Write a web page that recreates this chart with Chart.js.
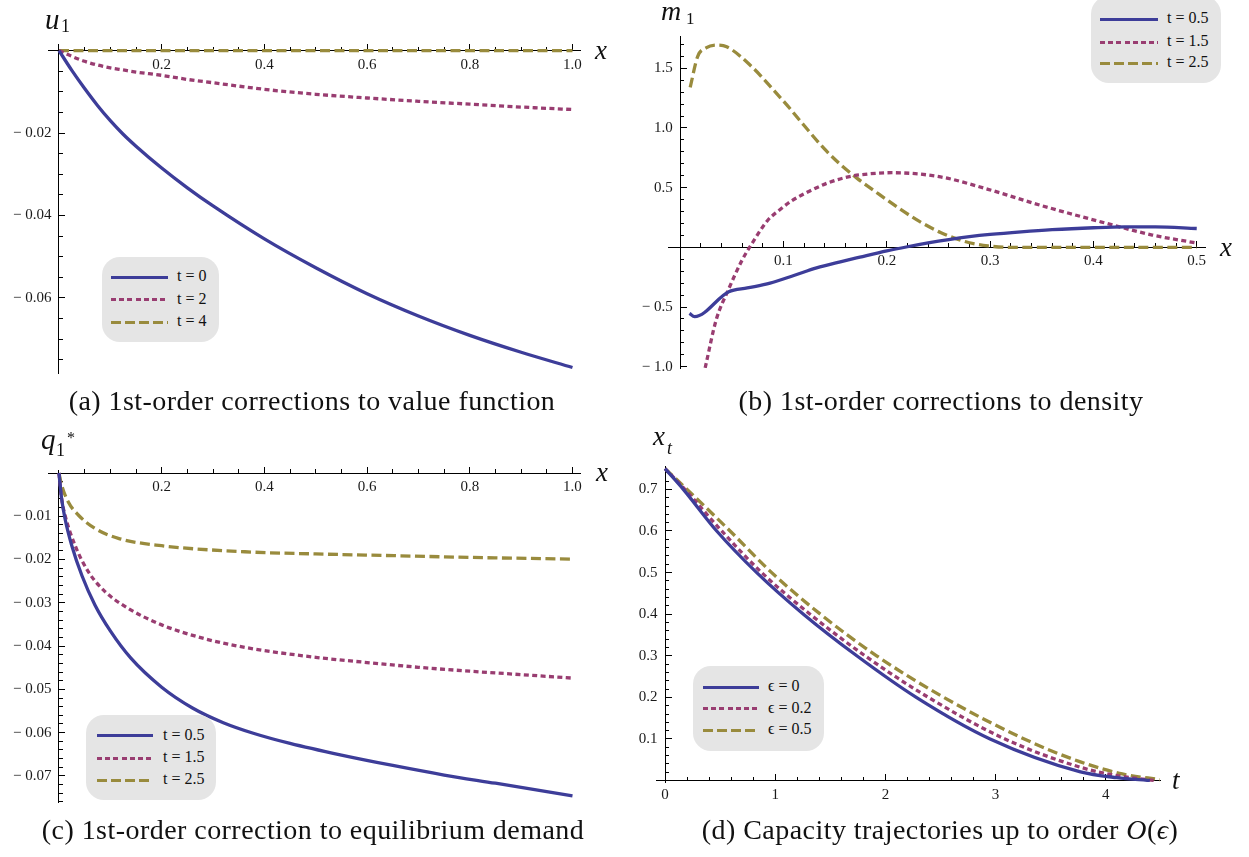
<!DOCTYPE html>
<html>
<head>
<meta charset="utf-8">
<script src="https://cdn.jsdelivr.net/npm/chart.js@4.4.1/dist/chart.umd.min.js"></script>
<style>
  body { margin: 0; background: #fff; }
  #page { position: relative; width: 1249px; height: 857px; overflow: hidden; font-family: "Liberation Serif", serif; color: #111; }
  canvas { position: absolute; }
  .cap { position: absolute; width: 620px; text-align: center; font-size: 28px; letter-spacing: 0.45px; line-height: 1; white-space: nowrap; }
  .lab { position: absolute; font-style: italic; line-height: 1; white-space: nowrap; }
  .sub { position: absolute; line-height: 1; white-space: nowrap; }
  .leg { position: absolute; background: #e5e5e5; border-radius: 18px; }
  .sw { position: absolute; height: 3px; }
  .lt { position: absolute; font-size: 16px; line-height: 1; white-space: nowrap; }
</style>
</head>
<body>
<div id="page">
  <canvas id="pa" width="620" height="400" style="left:0;top:0"></canvas>
  <canvas id="pb" width="629" height="400" style="left:620px;top:0"></canvas>
  <canvas id="pc" width="620" height="437" style="left:0;top:420px"></canvas>
  <canvas id="pd" width="629" height="437" style="left:620px;top:420px"></canvas>

  <span class="lab" style="left:45px;top:5px;font-size:29px">u</span>
  <span class="sub" style="left:61px;top:17px;font-size:18px">1</span>
  <span class="lab" style="left:595px;top:37px;font-size:27px">x</span>

  <span class="lab" style="left:661px;top:-3px;font-size:28px">m</span>
  <span class="sub" style="left:686px;top:10px;font-size:17px">1</span>
  <span class="lab" style="left:1220px;top:234px;font-size:27px">x</span>

  <span class="lab" style="left:41px;top:425px;font-size:29px">q</span>
  <span class="sub" style="left:56px;top:441px;font-size:18px">1</span>
  <span class="sub" style="left:67px;top:430px;font-size:16px">*</span>
  <span class="lab" style="left:596px;top:459px;font-size:27px">x</span>

  <span class="lab" style="left:653px;top:423px;font-size:27px">x</span>
  <span class="lab" style="left:667px;top:439px;font-size:18px">t</span>
  <span class="lab" style="left:1172px;top:767px;font-size:27px">t</span>

  <div class="cap" style="left:2px;top:387px">(a) 1st-order corrections to value function</div>
  <div class="cap" style="left:631px;top:387px">(b) 1st-order corrections to density</div>
  <div class="cap" style="left:3px;top:816px">(c) 1st-order correction to equilibrium demand</div>
  <div class="cap" style="left:630px;top:816px">(d) Capacity trajectories up to order <i>O</i>(<i>ϵ</i>)</div>
</div>
<script>
// (a) first-order correction u1 to the value function
const aX  = [0, 0.025, 0.05, 0.075, 0.1, 0.125, 0.15, 0.2, 0.25, 0.3, 0.4, 0.5, 0.6, 0.7, 0.8, 0.9, 1.0];
const aT0 = [0, -0.0048, -0.0092, -0.0133, -0.0170, -0.0203, -0.0232, -0.0285, -0.0333, -0.0377, -0.0457, -0.0527, -0.0590, -0.0644, -0.0691, -0.0732, -0.0769];
const aT2 = [0, -0.0014, -0.0026, -0.0035, -0.0042, -0.0047, -0.0052, -0.0060, -0.0070, -0.0078, -0.0094, -0.0106, -0.0115, -0.0123, -0.0130, -0.0137, -0.0143];
const aT4 = [0, 0, 0, 0, 0, 0, 0, 0, 0, 0, 0, 0, 0, 0, 0, 0, 0];
const aXTicks = [0.2, 0.4, 0.6, 0.8, 1.0];
const aYTicks = [-0.06, -0.04, -0.02];
const aLabels = ['t = 0', 't = 2', 't = 4'];

// (b) first-order correction m1 to the density
const bX05 = [0.009, 0.014, 0.047, 0.065, 0.087, 0.11, 0.132, 0.155, 0.174, 0.2, 0.22, 0.24, 0.26, 0.28, 0.3, 0.33, 0.36, 0.4, 0.43, 0.46, 0.5];
const bT05 = [-0.553, -0.58, -0.372, -0.34, -0.30, -0.236, -0.172, -0.121, -0.082, -0.03, 0.005, 0.037, 0.065, 0.089, 0.108, 0.13, 0.148, 0.164, 0.171, 0.171, 0.158];
const bX15 = [0.0242, 0.0348, 0.0465, 0.06, 0.0697, 0.085, 0.095, 0.108, 0.125, 0.143, 0.16, 0.174, 0.205, 0.252, 0.298, 0.348, 0.407, 0.457, 0.498];
const bT15 = [-1.01, -0.609, -0.358, -0.106, 0.035, 0.229, 0.305, 0.39, 0.47, 0.54, 0.585, 0.607, 0.625, 0.59, 0.486, 0.354, 0.214, 0.103, 0.039];
const bX25 = [0.0097, 0.017, 0.025, 0.0348, 0.045, 0.0697, 0.087, 0.1045, 0.12, 0.139, 0.155, 0.171, 0.19, 0.213, 0.232, 0.252, 0.275, 0.298, 0.32, 0.4, 0.5];
const bT25 = [1.34, 1.60, 1.67, 1.694, 1.68, 1.51, 1.35, 1.18, 1.02, 0.83, 0.695, 0.58, 0.46, 0.32, 0.215, 0.125, 0.05, 0.012, 0.0, 0.0, 0.0];
const bXTicks = [0.1, 0.2, 0.3, 0.4, 0.5];
const bYTicks = [-1.0, -0.5, 0.5, 1.0, 1.5];
const bLabels = ['t = 0.5', 't = 1.5', 't = 2.5'];

// (c) first-order correction q1* to equilibrium demand
const cX05 = [0, 0.005, 0.0117, 0.025, 0.045, 0.07, 0.1, 0.14, 0.2, 0.26, 0.32, 0.38, 0.45, 0.55, 0.65, 0.75, 0.85, 1.0];
const cT05 = [0, -0.0058, -0.0105, -0.0168, -0.0238, -0.0305, -0.0365, -0.0428, -0.0495, -0.0543, -0.0577, -0.0602, -0.0625, -0.0652, -0.0676, -0.0698, -0.0717, -0.0746];
const cX15 = [0, 0.0052, 0.0117, 0.0312, 0.0571, 0.0896, 0.135, 0.2, 0.284, 0.362, 0.5, 0.6, 0.7, 0.8, 0.9, 1.0];
const cT15 = [0, -0.0059, -0.0097, -0.0167, -0.0228, -0.0274, -0.0313, -0.0351, -0.0383, -0.0403, -0.0426, -0.0438, -0.0449, -0.0458, -0.0466, -0.0474];
const cX25 = [0, 0.0052, 0.0182, 0.0376, 0.0701, 0.1156, 0.2, 0.362, 0.5, 0.653, 0.8, 1.0];
const cT25 = [0, -0.0028, -0.0067, -0.0097, -0.0128, -0.0151, -0.0168, -0.0182, -0.0187, -0.0191, -0.0195, -0.0199];
const cXTicks = [0.2, 0.4, 0.6, 0.8, 1.0];
const cYTicks = [-0.07, -0.06, -0.05, -0.04, -0.03, -0.02, -0.01];
const cLabels = ['t = 0.5', 't = 1.5', 't = 2.5'];

// (d) capacity trajectories x_t
const dT0  = [0, 0.166, 0.469, 0.832, 1.256, 1.74, 2.28, 2.95, 3.77, 4.1, 4.4];
const dE0  = [0.75, 0.7, 0.6, 0.5, 0.4, 0.3, 0.2, 0.1, 0.021, 0.007, 0];
const dT02 = [0, 0.18, 0.514, 0.877, 1.316, 1.815, 2.39, 3.085, 3.77, 4.1, 4.45];
const dE02 = [0.75, 0.7, 0.6, 0.5, 0.4, 0.3, 0.2, 0.1, 0.032, 0.012, 0];
const dT05 = [0, 0.2, 0.59, 0.968, 1.41, 1.92, 2.53, 3.26, 3.77, 4.15, 4.5];
const dE05 = [0.75, 0.7, 0.6, 0.5, 0.4, 0.3, 0.2, 0.1, 0.045, 0.016, 0.002];
const dXTicks = [0, 1, 2, 3, 4];
const dYTicks = [0.1, 0.2, 0.3, 0.4, 0.5, 0.6, 0.7];
const dLabels = ['ϵ = 0', 'ϵ = 0.2', 'ϵ = 0.5'];

const BLUE = '#3d3d99', PURPLE = '#993d71', OLIVE = '#998b3d';
const styles = [
  { color: BLUE, width: 3.3, dash: [], css: BLUE },
  { color: PURPLE, width: 3.3, dash: [5, 3.4], css: 'repeating-linear-gradient(90deg,' + PURPLE + ' 0 5px,transparent 5px 8.2px)' },
  { color: OLIVE, width: 3.3, dash: [10, 4.5], css: 'repeating-linear-gradient(90deg,' + OLIVE + ' 0 10px,transparent 10px 14px)' }
];

Chart.defaults.font.family = 'Liberation Serif';
Chart.defaults.font.size = 15;
Chart.defaults.color = '#1a1a1a';

function pts(xs, ys) {
  return xs.map((x, i) => ({ x: x, y: ys[i] }));
}

function steps(from, to, step) {
  const out = [];
  const n = Math.round((to - from) / step);
  for (let i = 0; i <= n; i++) out.push(+(from + i * step).toFixed(6));
  return out;
}

function fmt(v, dec) {
  const s = Math.abs(v).toFixed(dec);
  return v < 0 ? '\u2212 ' + s : s;
}

function axis(dir, range, ticks, dec, minor) {
  const horiz = dir === 'x';
  const major = {
    type: 'linear', axis: dir, min: range[0], max: range[1],
    position: horiz ? { y: 0 } : { x: 0 },
    afterBuildTicks: s => { s.ticks = ticks.map(v => ({ value: v })); },
    border: { display: true, color: '#000', width: 1 },
    grid: { drawOnChartArea: false, tickLength: -7, tickColor: '#000' },
    ticks: {
      autoSkip: false, maxRotation: 0,
      padding: horiz ? 12 : 7,
      callback: v => horiz ? fmt(v, dec) : fmt(v, dec) + '  '
    }
  };
  const small = {
    type: 'linear', axis: dir, min: range[0], max: range[1],
    position: horiz ? { y: 0 } : { x: 0 },
    afterBuildTicks: s => { s.ticks = minor.map(v => ({ value: v })); },
    border: { display: false },
    grid: { drawOnChartArea: false, tickLength: -4, tickColor: '#000' },
    ticks: { display: false }
  };
  return [major, small];
}

function makePanel(id, p) {
  const [x, xm] = axis('x', p.xRange, p.xTicks, p.xDec, p.xMinor);
  const [y, ym] = axis('y', p.yRange, p.yTicks, p.yDec, p.yMinor);
  return new Chart(document.getElementById(id), {
    type: 'line',
    data: {
      datasets: p.series.map((s, i) => ({
        label: p.labels[i],
        data: pts(s[0], s[1]),
        xAxisID: 'x', yAxisID: 'y',
        borderColor: styles[i].color,
        borderWidth: styles[i].width,
        borderDash: styles[i].dash,
        borderCapStyle: 'butt',
        pointRadius: 0,
        cubicInterpolationMode: 'monotone',
        fill: false
      }))
    },
    options: {
      responsive: false,
      animation: false,
      events: [],
      layout: { padding: p.pad },
      plugins: { legend: { display: false }, tooltip: { enabled: false } },
      scales: { x: x, y: y, xm: xm, ym: ym }
    }
  });
}

function legend(chart, box, rows, lineX, textX) {
  const page = document.getElementById('page');
  const d = document.createElement('div');
  d.className = 'leg';
  Object.assign(d.style, { left: box[0] + 'px', top: box[1] + 'px', width: (box[2] - box[0]) + 'px', height: (box[3] - box[1]) + 'px' });
  chart.data.datasets.forEach((ds, i) => {
    const sw = document.createElement('div');
    sw.className = 'sw';
    Object.assign(sw.style, { left: (lineX[0] - box[0]) + 'px', top: (rows[i] - box[1] - 1.5) + 'px', width: (lineX[1] - lineX[0]) + 'px', background: styles[i].css });
    const t = document.createElement('div');
    t.className = 'lt';
    t.textContent = ds.label;
    Object.assign(t.style, { left: (textX - box[0]) + 'px', top: (rows[i] - box[1] - 9) + 'px' });
    d.appendChild(sw);
    d.appendChild(t);
  });
  page.appendChild(d);
}

const ca = makePanel('pa', {
  series: [[aX, aT0], [aX, aT2], [aX, aT4]], labels: aLabels,
  xRange: [-0.0204, 1.016], yRange: [-0.0783, 0.0016],
  xTicks: aXTicks, yTicks: aYTicks, xDec: 1, yDec: 2,
  xMinor: steps(0.05, 1.0, 0.05), yMinor: steps(-0.075, -0.005, 0.005),
  pad: { left: 48.5, right: 39.3, top: 44, bottom: 26.7 }
});
const cb = makePanel('pb', {
  series: [[bX05, bT05], [bX15, bT15], [bX25, bT25]], labels: bLabels,
  xRange: [-0.011, 0.508], yRange: [-1.013, 1.77],
  xTicks: bXTicks, yTicks: bYTicks, xDec: 1, yDec: 1,
  xMinor: steps(0.02, 0.5, 0.02), yMinor: steps(-1.0, 1.7, 0.1),
  pad: { left: 48.8, right: 44, top: 36, bottom: 31.7 }
});
const cc = makePanel('pc', {
  series: [[cX05, cT05], [cX15, cT15], [cX25, cT25]], labels: cLabels,
  xRange: [-0.0204, 1.016], yRange: [-0.0762, 0.0007],
  xTicks: cXTicks, yTicks: cYTicks, xDec: 1, yDec: 2,
  xMinor: steps(0.05, 1.0, 0.05), yMinor: steps(-0.076, -0.002, 0.002),
  pad: { left: 48.5, right: 39.3, top: 50, bottom: 54.3 }
});
const cd = makePanel('pd', {
  series: [[dT0, dE0], [dT02, dE02], [dT05, dE05]], labels: dLabels,
  xRange: [-0.082, 4.492], yRange: [-0.0034, 0.755],
  xTicks: dXTicks, yTicks: dYTicks, xDec: 0, yDec: 1,
  xMinor: steps(0.2, 4.4, 0.2), yMinor: steps(0.02, 0.74, 0.02),
  pad: { left: 36, right: 89, top: 46.5, bottom: 75 }
});

legend(ca, [102, 257, 219, 342], [277, 299.5, 322], [111, 168], 177);
legend(cb, [1091, -4, 1221, 83], [19, 42, 63], [1100, 1158], 1167);
legend(cc, [86, 715, 216, 800], [735.5, 758, 780], [97, 153], 163);
legend(cd, [693, 666, 824, 751], [687, 708.5, 730], [703, 759], 768);
</script>
</body>
</html>
